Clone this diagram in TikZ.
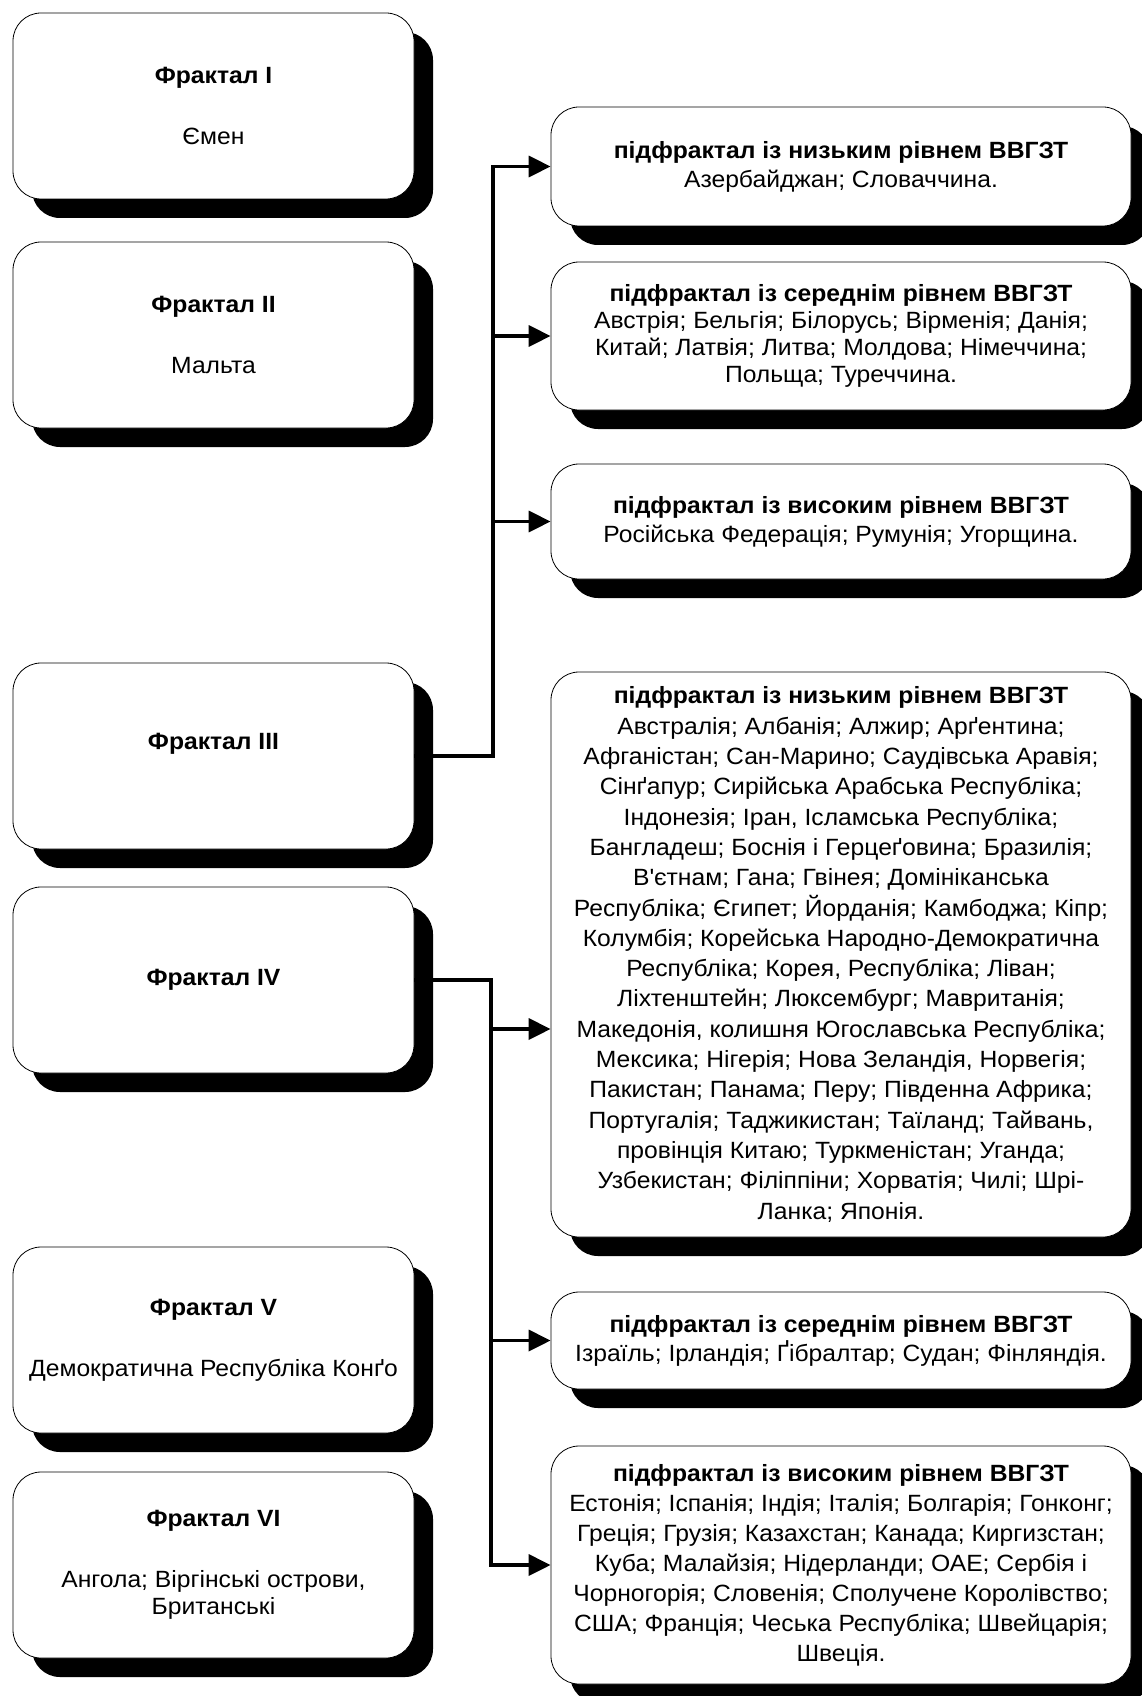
\documentclass[tikz,border=0pt]{standalone}
\usepackage{fontspec}
\setmainfont[FakeStretch=1.05]{Liberation Sans}
\usetikzlibrary{arrows.meta,shadows}

\begin{document}
\begin{tikzpicture}[x=1pt,y=-1pt,
  frbox/.style={draw,line width=0.8pt,fill=white,rounded corners=28pt,
    drop shadow={shadow xshift=19pt,shadow yshift=-19pt,opacity=1,fill=black},
    minimum width=401pt,minimum height=186pt,align=center,inner sep=2pt,
    font=\fontsize{23.5}{29}\selectfont},
  subbox/.style={frbox,minimum width=580pt,minimum height=#1},
  link/.style={line width=3.5pt,-{Triangle[length=22pt,width=21pt]}}]
\useasboundingbox (0,0) rectangle (1142,1696);

% fractals
\node[frbox] (f1) at (213.5,106) {\textbf{Фрактал I}\\[32pt]Ємен};
\node[frbox] (f2) at (213.5,335) {\textbf{Фрактал II}\\[32pt]Мальта};
\node[frbox] (f3) at (213.5,756) {\textbf{Фрактал III}\\\mbox{}};
\node[frbox] (f4) at (213.5,980) {\textbf{Фрактал IV}};
\node[frbox] (f5) at (213.5,1340) {\textbf{Фрактал V}\\[32pt]Демократична Республіка Конґо};
\node[frbox] (f6) at (213.5,1565) {\textbf{Фрактал VI}\\[32pt]Ангола; Віргінські острови,\\[-2pt]Британські};

% subfractals
\node[subbox=119pt] (s1) at (841,166.5) {\textbf{підфрактал із низьким рівнем ВВГЗТ}\\Азербайджан; Словаччина.};
\node[subbox=148pt,font=\fontsize{23.5}{27}\selectfont] (s2) at (841,336) {\textbf{підфрактал із середнім рівнем ВВГЗТ}\\
  Австрія; Бельгія; Білорусь; Вірменія; Данія;\\
  Китай; Латвія; Литва; Молдова; Німеччина;\\
  Польща; Туреччина.};
\node[subbox=115pt] (s3) at (841,521.5) {\textbf{підфрактал із високим рівнем ВВГЗТ}\\Російська Федерація; Румунія; Угорщина.};
\node[subbox=565pt,font=\fontsize{23.5}{30.3}\selectfont] (s4) at (841,954.5) {\textbf{підфрактал із низьким рівнем ВВГЗТ}\\
  Австралія; Албанія; Алжир; Арґентина;\\
  Афганістан; Сан-Марино; Саудівська Аравія;\\
  Сінґапур; Сирійська Арабська Республіка;\\
  Індонезія; Іран, Ісламська Республіка;\\
  Бангладеш; Боснія і Герцеґовина; Бразилія;\\
  В\textquotesingle єтнам; Гана; Гвінея; Домініканська\\
  Республіка; Єгипет; Йорданія; Камбоджа; Кіпр;\\
  Колумбія; Корейська Народно-Демократична\\
  Республіка; Корея, Республіка; Ліван;\\
  Ліхтенштейн; Люксембург; Мавританія;\\
  Македонія, колишня Югославська Республіка;\\
  Мексика; Нігерія; Нова Зеландія, Норвегія;\\
  Пакистан; Панама; Перу; Південна Африка;\\
  Португалія; Таджикистан; Таїланд; Тайвань,\\
  провінція Китаю; Туркменістан; Уганда;\\
  Узбекистан; Філіппіни; Хорватія; Чилі; Шрі-\\
  Ланка; Японія.};
\node[subbox=97pt] (s5) at (841,1340.5) {\textbf{підфрактал із середнім рівнем ВВГЗТ}\\Ізраїль; Ірландія; Ґібралтар; Судан; Фінляндія.};
\node[subbox=238pt,font=\fontsize{23.5}{30}\selectfont] (s6) at (841,1565) {\textbf{підфрактал із високим рівнем ВВГЗТ}\\
  Естонія; Іспанія; Індія; Італія; Болгарія; Гонконг;\\
  Греція; Грузія; Казахстан; Канада; Киргизстан;\\
  Куба; Малайзія; Нідерланди; ОАЕ; Сербія і\\
  Чорногорія; Словенія; Сполучене Королівство;\\
  США; Франція; Чеська Республіка; Швейцарія;\\
  Швеція.};

% connectors
\coordinate (t1) at (493,756);
\coordinate (t2) at (491,980);
\draw[link] (f3.east) -- (t1) |- (s1.west);
\draw[link] (t1) |- (s2.west);
\draw[link] (t1) |- (s3.west);
\draw[link] (f4.east) -- (t2) |- ([yshift=-74.5pt]s4.west);
\draw[link] (t2) |- (s5.west);
\draw[link] (t2) |- (s6.west);
\end{tikzpicture}
\end{document}
